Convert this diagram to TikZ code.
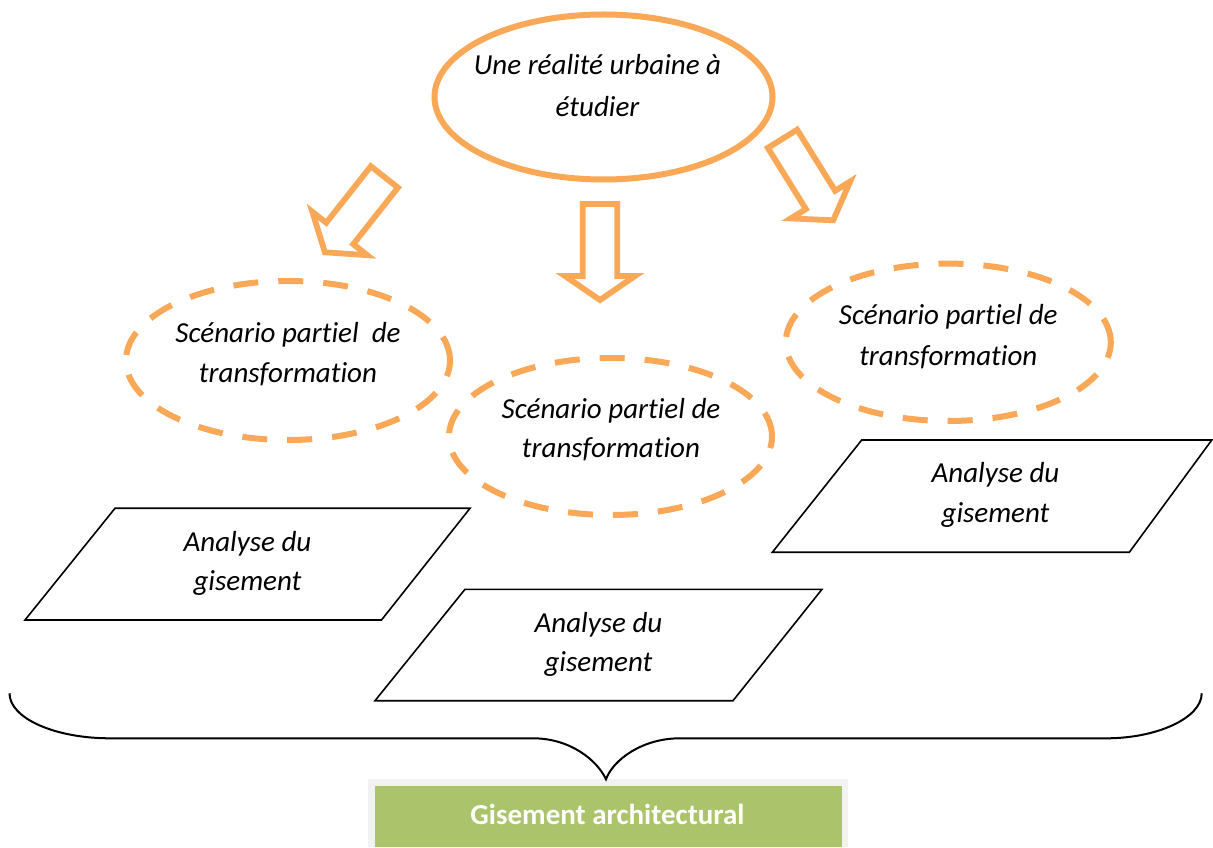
\documentclass[tikz,border=0pt]{standalone}
\usepackage{fontspec}
\setmainfont{Carlito}[Ligatures={NoCommon}]
\usetikzlibrary{shapes.geometric}
\definecolor{orng}{RGB}{249,168,88}
\definecolor{grn}{RGB}{171,196,108}
\definecolor{framegray}{RGB}{242,242,242}
\begin{document}
\begin{tikzpicture}[x=1pt,y=1pt,
  solidell/.style={ellipse,draw=orng,line width=6pt,inner sep=0pt,fill=white},
  dashell/.style={ellipse,draw=orng,line width=6pt,inner sep=0pt,dash pattern=on 25pt off 20pt},
  blockarrow/.style={draw=orng,line width=5.8pt,line join=miter,fill=white},
  para/.style={draw=black,line width=1.6pt,line join=miter},
  txt/.style={font=\fontsize{29}{40}\selectfont\itshape,anchor=base,inner sep=0pt},
  bracestyle/.style={draw=black,line width=2pt}]
\useasboundingbox (0,0) rectangle (1213,847);

% top ellipse
\node[solidell,minimum width=338pt,minimum height=165pt] (top) at (603.5,750) {};
\node[txt] (top1) at (597.5,772) {Une réalité urbaine à};
\node[txt] (top2) at (597.5,730) {étudier};

% block arrows
\draw[blockarrow,shift={(324.9,594.7)},rotate=-128.3]
  (-96,17.25) -- (-24,17.25) -- (-24,35) -- (0,0) -- (-24,-35) -- (-24,-17.25) -- (-96,-17.25) -- cycle;
\draw[blockarrow,shift={(600,547)},rotate=-90]
  (-96,17.25) -- (-24,17.25) -- (-24,35) -- (0,0) -- (-24,-35) -- (-24,-17.25) -- (-96,-17.25) -- cycle;
\draw[blockarrow,shift={(833.2,626.7)},rotate=-58.1]
  (-96,17.25) -- (-24,17.25) -- (-24,35) -- (0,0) -- (-24,-35) -- (-24,-17.25) -- (-96,-17.25) -- cycle;

% dashed ellipses
\node[dashell,minimum width=324pt,minimum height=159pt] (e1) at (288,486.5) {};
\node[txt] (e1a) at (288,504.3) {Scénario partiel\ \ de};
\node[txt] (e1b) at (288,464) {transformation};

\node[dashell,minimum width=323pt,minimum height=157pt] (e2) at (610.5,410.5) {};
\node[txt] (e2a) at (611,428) {Scénario partiel de};
\node[txt] (e2b) at (611,389) {transformation};

\node[dashell,minimum width=325pt,minimum height=157.4pt] (e3) at (948.3,504.7) {};
\node[txt] (e3a) at (948.3,522) {Scénario partiel de};
\node[txt] (e3b) at (948.3,481) {transformation};

% parallelograms
\coordinate (p1tl) at (115,338.7); \coordinate (p1tr) at (470,338.7);
\coordinate (p1br) at (381.5,227); \coordinate (p1bl) at (25,227);
\draw[para] (p1tl) -- (p1tr) -- (p1br) -- (p1bl) -- cycle;
\node[txt] (p1a) at (247.5,295.3) {Analyse du};
\node[txt] (p1b) at (247.5,257) {gisement};

\coordinate (p2tl) at (465,257.7); \coordinate (p2tr) at (822,257.7);
\coordinate (p2br) at (733,146.3); \coordinate (p2bl) at (375,146.3);
\draw[para] (p2tl) -- (p2tr) -- (p2br) -- (p2bl) -- cycle;
\node[txt] (p2a) at (598.5,214.3) {Analyse du};
\node[txt] (p2b) at (598.5,176) {gisement};

\coordinate (p3tl) at (861.7,407); \coordinate (p3tr) at (1211.8,407);
\coordinate (p3br) at (1129.3,294.7); \coordinate (p3bl) at (772.3,294.7);
\draw[para] (p3tl) -- (p3tr) -- (p3br) -- (p3bl) -- cycle;
\node[txt] (p3a) at (995.5,364.3) {Analyse du};
\node[txt] (p3b) at (995.5,324) {gisement};

% bottom box
\fill[framegray] (368.3,0) rectangle (848.3,67.7);
\node[fill=grn,inner sep=0pt,minimum width=467.4pt,minimum height=61pt,anchor=south west] (res) at (374.3,0) {};
\node[font=\fontsize{29}{34}\selectfont\bfseries,text=white,anchor=base,inner sep=0pt] (restxt) at (607.5,23) {Gisement architectural};

% brace
\coordinate (bl) at (9.5,153.7);
\coordinate (br) at (1201.7,153.7);
\coordinate (bcusp) at (606,67.7);
\draw[bracestyle] (bl) .. controls (9.5,128.9) and (54.5,108.7) .. (110,108.7)
  -- (533,108.7) .. controls (570,108.7) and (597,87) .. (bcusp)
  .. controls (613,87) and (642,108.7) .. (680,108.7)
  -- (1106.7,108.7) .. controls (1156.5,108.7) and (1201.7,128.9) .. (br);
\end{tikzpicture}
\end{document}
